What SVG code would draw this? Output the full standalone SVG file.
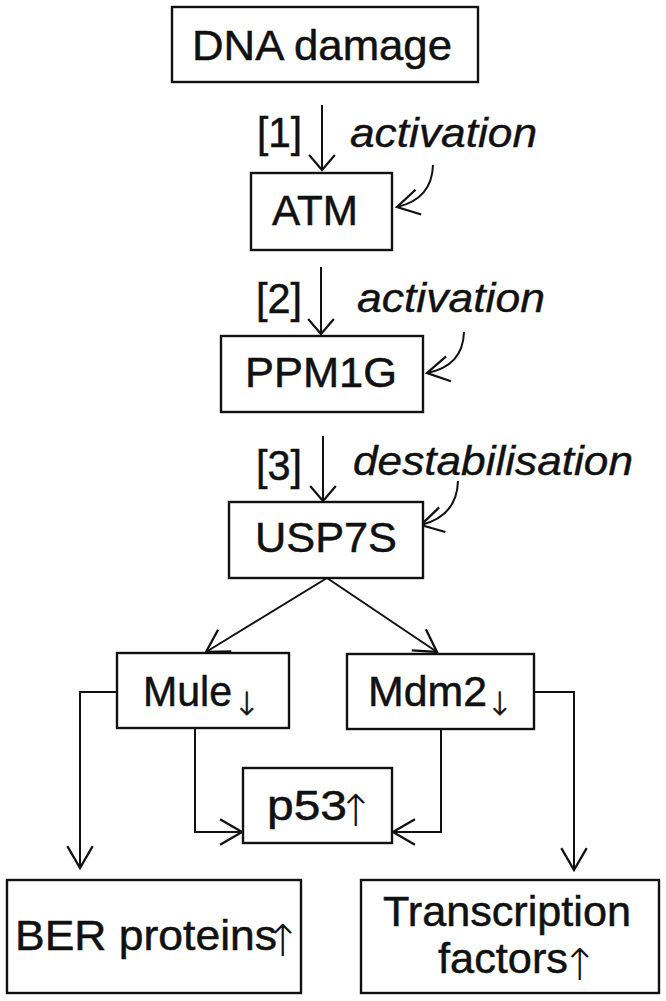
<svg xmlns="http://www.w3.org/2000/svg" width="666" height="1001" viewBox="0 0 666 1001">
<style>
.box{fill:#fff;stroke:#111;stroke-width:2.4}
.t{font-family:"Liberation Sans",Arial,sans-serif;font-size:42px;fill:#111;stroke:#111;stroke-width:0.5}
.i{font-family:"Liberation Sans",Arial,sans-serif;font-size:40px;font-style:italic;fill:#111;stroke:#111;stroke-width:0.4}
.ar{font-family:"DejaVu Sans",sans-serif;font-weight:200;fill:#111}
.dn{stroke:#111;stroke-width:0.6}
.c{fill:none;stroke:#111;stroke-width:2}
</style>
<defs>
<marker id="ah" markerUnits="userSpaceOnUse" markerWidth="30" markerHeight="30" viewBox="-20 -13 22 26" refX="0" refY="0" orient="auto">
<path d="M-19,-11 L0,0 L-19,11" fill="none" stroke="#111" stroke-width="2"/>
</marker>
<marker id="ahs" markerUnits="userSpaceOnUse" markerWidth="30" markerHeight="30" viewBox="-20 -14 22 28" refX="0" refY="0" orient="auto">
<path d="M-14,-12 L0,0 L-14,12" fill="none" stroke="#111" stroke-width="2"/>
</marker>
</defs>

<g id="connectors">
<line class="c" x1="322" y1="105" x2="322" y2="170" marker-end="url(#ahs)"/>
<line class="c" x1="321" y1="267" x2="321" y2="334" marker-end="url(#ahs)"/>
<line class="c" x1="323" y1="436" x2="323" y2="501" marker-end="url(#ahs)"/>
<path class="c" d="M433,165 Q432,199 397,207" marker-end="url(#ah)"/>
<path class="c" d="M464,332 Q463,366 427,373" marker-end="url(#ah)"/>
<path class="c" d="M458,481 Q457,516 421,525" marker-end="url(#ah)"/>
<line class="c" x1="327" y1="578" x2="206" y2="652" marker-end="url(#ah)"/>
<line class="c" x1="327" y1="578" x2="437" y2="652" marker-end="url(#ah)"/>
<path class="c" d="M117,692 H80 V868" marker-end="url(#ah)"/>
<path class="c" d="M195,728 V832 H242" marker-end="url(#ah)"/>
<path class="c" d="M441,729 V832 H393" marker-end="url(#ah)"/>
<path class="c" d="M534,692 H574 V870" marker-end="url(#ah)"/>
</g>

<g id="labels">
<text class="t" x="257" y="147" textLength="45" lengthAdjust="spacingAndGlyphs">[1]</text>
<text class="t" x="256" y="313" textLength="46" lengthAdjust="spacingAndGlyphs">[2]</text>
<text class="t" x="256" y="480" textLength="46" lengthAdjust="spacingAndGlyphs">[3]</text>
<text class="i" x="350" y="147" textLength="187" lengthAdjust="spacingAndGlyphs">activation</text>
<text class="i" x="357" y="312" textLength="188" lengthAdjust="spacingAndGlyphs">activation</text>
<text class="i" x="353" y="475" textLength="280" lengthAdjust="spacingAndGlyphs">destabilisation</text>
</g>

<g id="dna">
<rect class="box" x="172" y="7" width="306" height="75"/>
<text class="t" x="192" y="60" textLength="260" lengthAdjust="spacingAndGlyphs">DNA damage</text>
</g>
<g id="atm">
<rect class="box" x="251" y="173" width="141" height="77"/>
<text class="t" x="272" y="225" textLength="86" lengthAdjust="spacingAndGlyphs">ATM</text>
</g>
<g id="ppm1g">
<rect class="box" x="221" y="336" width="202" height="76"/>
<text class="t" x="245" y="387" textLength="152" lengthAdjust="spacingAndGlyphs">PPM1G</text>
</g>
<g id="usp7s">
<rect class="box" x="229" y="502" width="194" height="76"/>
<text class="t" x="255" y="552" textLength="142" lengthAdjust="spacingAndGlyphs">USP7S</text>
</g>
<g id="mule">
<rect class="box" x="117" y="653" width="172" height="75"/>
<text class="t" x="143" y="706" font-size="45" textLength="89" lengthAdjust="spacingAndGlyphs">Mule</text>
<text class="ar dn" x="247" y="715" font-size="32" text-anchor="middle">↓</text>
</g>
<g id="mdm2">
<rect class="box" x="347" y="654" width="187" height="75"/>
<text class="t" x="368" y="706" font-size="45" textLength="119" lengthAdjust="spacingAndGlyphs">Mdm2</text>
<text class="ar dn" x="500" y="715" font-size="32" text-anchor="middle">↓</text>
</g>
<g id="p53">
<rect class="box" x="243" y="768" width="149" height="75"/>
<text class="t" x="267" y="820" textLength="80" lengthAdjust="spacingAndGlyphs">p53</text>
<text class="ar" x="356" y="826" font-size="44" text-anchor="middle">↑</text>
</g>
<g id="ber">
<rect class="box" x="7" y="880" width="294" height="113"/>
<text class="t" x="15" y="950" textLength="262" lengthAdjust="spacingAndGlyphs">BER proteins</text>
<text class="ar" x="283" y="956" font-size="44" text-anchor="middle">↑</text>
</g>
<g id="tf">
<rect class="box" x="361" y="880" width="298" height="113"/>
<text class="t" x="383" y="926" textLength="248" lengthAdjust="spacingAndGlyphs">Transcription</text>
<text class="t" x="438" y="973" textLength="130" lengthAdjust="spacingAndGlyphs">factors</text>
<text class="ar" x="580" y="980" font-size="44" text-anchor="middle">↑</text>
</g>
</svg>
